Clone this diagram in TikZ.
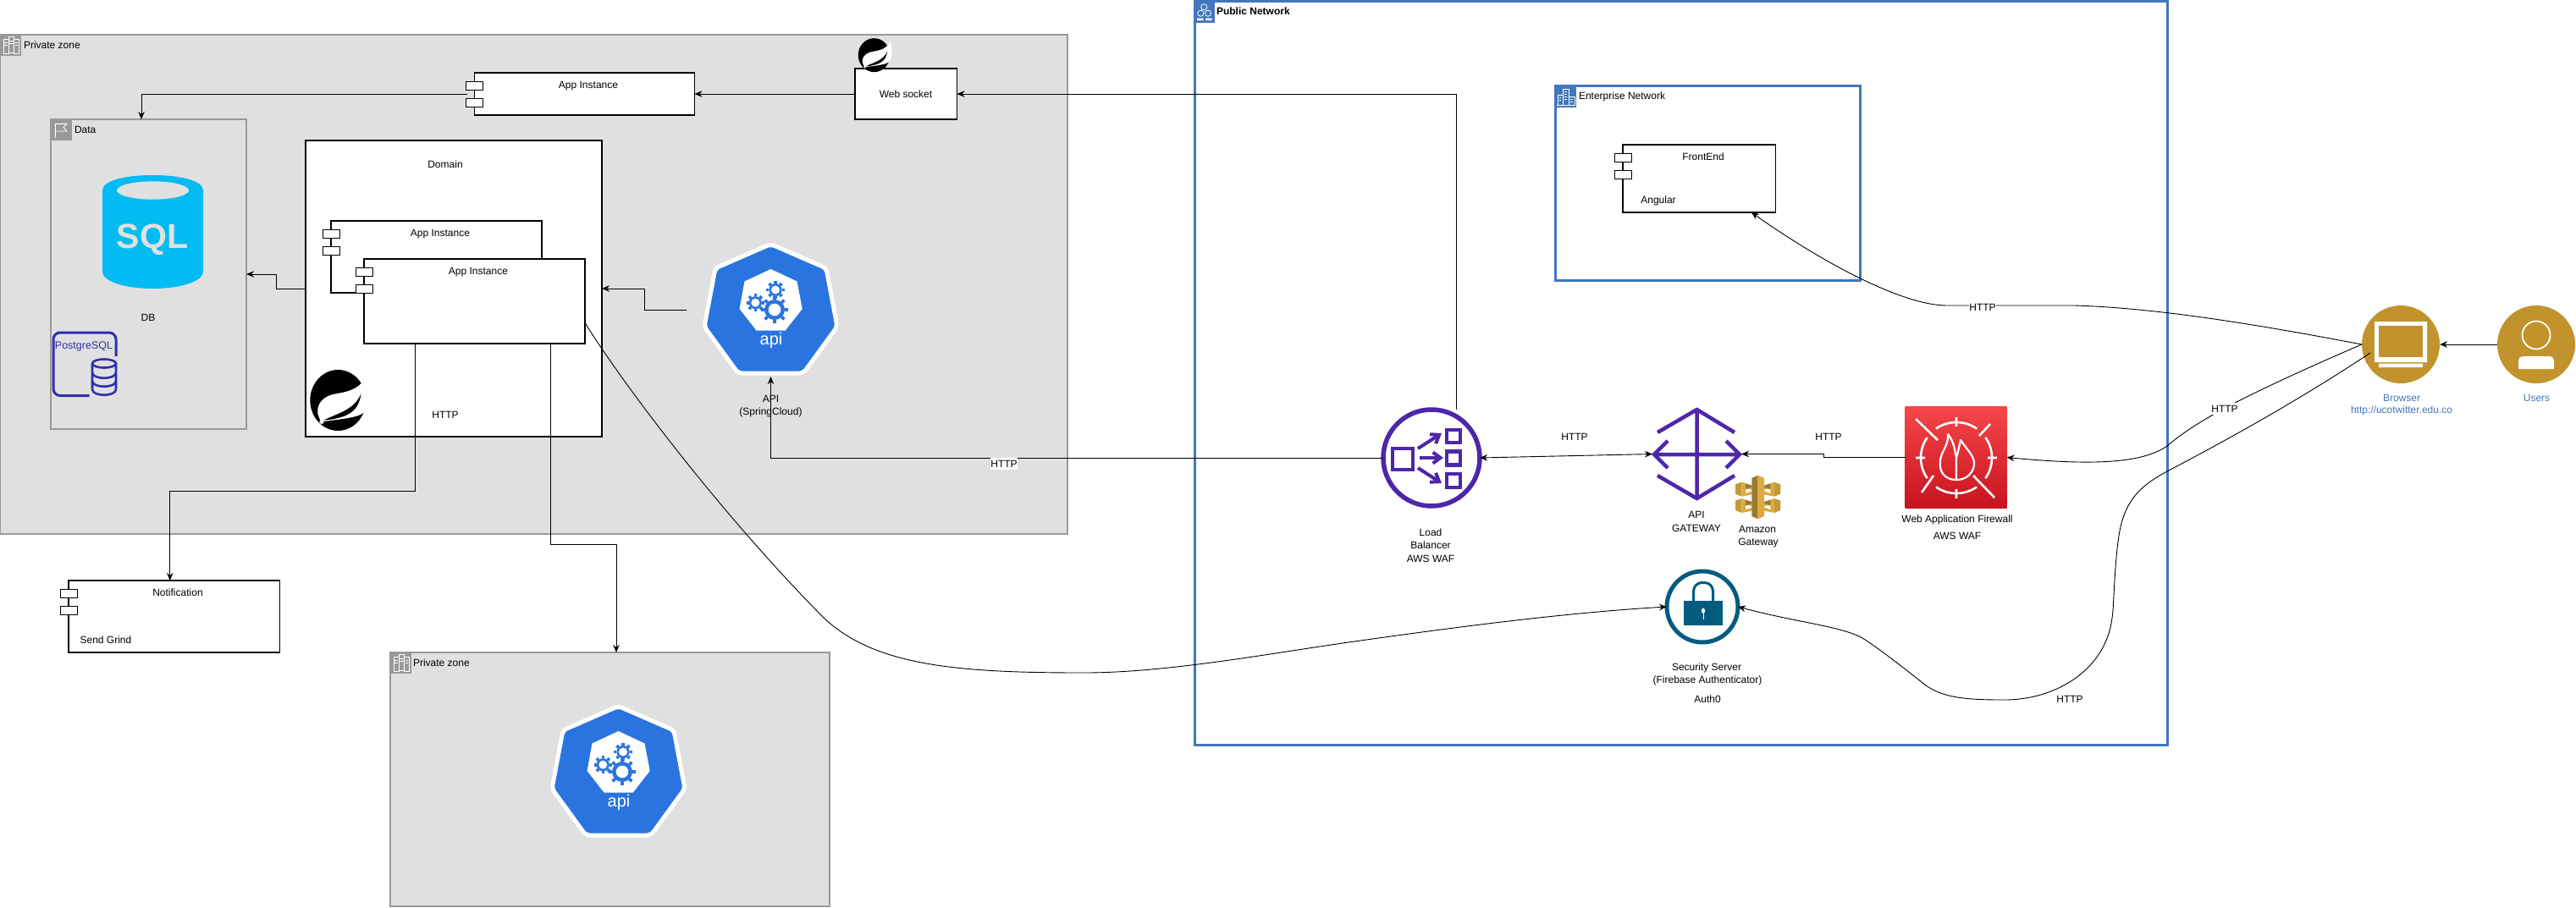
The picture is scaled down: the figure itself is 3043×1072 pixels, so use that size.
\documentclass[tikz,border=0pt]{standalone}
\usepackage{fontspec}
\setmainfont{Liberation Sans}
\usetikzlibrary{arrows.meta,calc}
\definecolor{zonefill}{HTML}{E0E0E0}
\definecolor{zoneline}{HTML}{999999}
\definecolor{netblue}{HTML}{4277BB}
\definecolor{apiblue}{HTML}{2A74E0}
\definecolor{awspurple}{HTML}{4D27AA}
\definecolor{lockblue}{HTML}{005B7F}
\definecolor{gold}{HTML}{C2932C}
\definecolor{pgblue}{HTML}{2F2FAD}
\definecolor{sqlblue}{HTML}{00BCF2}
\definecolor{wafA}{HTML}{F54749}
\definecolor{wafB}{HTML}{C7131F}
\definecolor{amzL}{HTML}{DBAA43}
\definecolor{amzM}{HTML}{C49A38}
\definecolor{amzD}{HTML}{9A7A32}
\tikzset{
  base/.style={inner sep=0pt,outer sep=0pt},
  lbl/.style={base,font=\fontsize{12}{14}\selectfont,text height=8.6pt,text depth=0pt,align=center},
  lbll/.style={lbl,anchor=west},
  httplbl/.style={lbl,fill=white,inner xsep=0.5pt,inner ysep=3pt},
  bluelbl/.style={lbl,text=netblue},
  box/.style={base,draw=black,line width=1.1pt,fill=white},
  port/.style={base,draw=black,line width=1pt,fill=white,minimum width=20pt,minimum height=10pt},
  zone/.style={base,draw=zoneline,line width=1.2pt,fill=zonefill},
  net/.style={base,draw=netblue,line width=3pt,fill=white},
  conn/.style={draw=black,line width=0.9pt,-{Stealth[length=9pt,width=7.5pt]}},
  biconn/.style={draw=black,line width=0.9pt,{Stealth[length=9pt,width=7.5pt]}-{Stealth[length=9pt,width=7.5pt]}},
  ic/.style={draw=white,line width=0.9pt,fill=none},
}
% component box with its two ports: name, cx, cy, w, h
\newcommand\compbox[5]{%
  \node[box,minimum width=#4pt,minimum height=#5pt] (#1) at (#2,#3) {};
  \node[port] (#1pa) at ([yshift=-15.5pt]#1.north west) {};
  \node[port] (#1pb) at ([yshift=-35.5pt]#1.north west) {};
}
\newcommand\gearshape[5]{% cx cy body tooth hole
  \fill[apiblue] (#1,#2) circle[radius=#3];
  \foreach \a in {0,45,...,315}{\draw[apiblue,line width=3.6pt] (#1,#2) ++(\a:#3) -- ++(\a:#4);}
  \fill[white] (#1,#2) circle[radius=#5];
}
% api badge; coordinates are those of the first badge, shifted by #1,#2
\newcommand\apiicon[3]{%
  \begin{scope}[shift={(#1,#2)}]
    \path[fill=apiblue,draw=white,line width=5pt,line join=round,rounded corners=5pt]
      (910.5,288.5)--(976,317)--(989,386)--(949,441)--(872,441)--(832,386)--(845,317)--cycle;
    \path[fill=white,line join=round]
      (910.5,318)--(941.5,332.5)--(947.7,365)--(927.7,390.6)--(893.6,390.6)--(873.6,365)--(879.5,332.5)--cycle;
    \gearshape{915}{366}{12}{4}{7.3}
    \gearshape{916}{342.5}{7.6}{3}{5}
    \gearshape{892.3}{357.7}{7.6}{3}{5}
    \node[base,text=white,font=\fontsize{20}{20}\selectfont,text height=11pt,text depth=0pt] (#3txt) at (911,402) {api};
  \end{scope}
}
\newcommand\springicon[4]{%
  \begin{scope}[shift={(#1,#2)},xscale=#3,yscale=#4]
    \fill[black] (133,129) ellipse[x radius=99,y radius=108];
    \fill[white] (75,205) .. controls (45,170) and (60,115) .. (130,105)
      .. controls (175,98) and (215,85) .. (232,42)
      .. controls (250,100) and (248,150) .. (225,172)
      .. controls (205,190) and (150,195) .. (75,205) -- cycle;
    \fill[black] (82,200) .. controls (130,175) and (190,165) .. (215,105)
      .. controls (205,170) and (170,185) .. (110,197) -- cycle;
    \fill[white] (75,205) circle[radius=8];
  \end{scope}
}
\begin{document}
\begin{tikzpicture}[x=1pt,y=-1pt]
\useasboundingbox (0,0) rectangle (3043,1072);
\fill[white] (0,0) rectangle (3043,1072);

% ---------- containers
\node[zone,minimum width=1261pt,minimum height=590pt] (pza) at (630.5,336) {};
\node[zone,minimum width=519pt,minimum height=300pt] (pzb) at (720.5,921) {};
\node[net,minimum width=1149pt,minimum height=879pt] (public) at (1985.5,441) {};
\node[net,minimum width=360.5pt,minimum height=230pt] (enterprise) at (2017.25,216) {};
\node[base,draw=zoneline,line width=2.5pt,minimum width=231pt,minimum height=366pt] (data) at (175.5,324) {};

% zone corner icons
\foreach \sx/\sy/\nm in {0/41/a,461/771/b}{
  \begin{scope}[shift={(\sx,\sy)}]
    \fill[zoneline] (0,0) rectangle (25,25);
    \draw[ic,line width=0.7pt] (4,5) rectangle (10,22); \draw[ic,line width=0.7pt] (10,2.5) rectangle (16.5,21); \draw[ic,line width=0.7pt] (16.5,5) rectangle (22,22);
    \draw[ic,line width=0.7pt] (5,9)--(9,9) (11,7)--(15.5,7) (17.5,9)--(21,9) (5,12)--(9,12) (11,10)--(15.5,10) (17.5,12)--(21,12);
  \end{scope}}
\node[lbll] (pzatxt) at (28,53) {Private zone};
\node[lbll] (pzbtxt) at (488,783) {Private zone};
% data flag
\fill[zoneline] (60,141) rectangle (85,166);
\draw[white,line width=0.9pt] (65.4,162.5)--(65.4,146.3)--(79,146.3)--(75,150.6)--(79,155)--(65.4,155);
\node[lbll] (datatxt) at (88,153) {Data};
% public network icon
\fill[netblue] (1411,0) rectangle (1435,27);
\foreach \cx/\cy in {1422.3/8.3,1418.3/15.7,1427/15.7}{\draw[white,line width=0.8pt] (\cx,\cy) circle[radius=3.6];}
\fill[white] (1414,21.5) rectangle (1421.5,24) (1424,21.5) rectangle (1431.5,24);
\node[lbll,font=\fontsize{12}{14}\selectfont\bfseries] (pubtxt) at (1437,12.7) {Public Network};
% enterprise icon
\fill[netblue] (1838,102) rectangle (1862,127);
\draw[ic] (1840,124.5)--(1840,112)--(1846,112)--(1846,124.5) (1846,124.5)--(1846,105)--(1853,105)--(1853,124.5) (1853,124.5)--(1853,114)--(1860,114)--(1860,124.5) (1839,124.5)--(1861,124.5);
\draw[white,line width=0.7pt] (1848,108)--(1851,108) (1848,111)--(1851,111) (1848,114)--(1851,114) (1848,117)--(1851,117) (1842,115)--(1844,115) (1842,118)--(1844,118) (1855,117)--(1858,117) (1855,120)--(1858,120);
\node[lbll] (enttxt) at (1865,113) {Enterprise Network};

% ---------- data
\path[fill=sqlblue] (121,225) .. controls (121,214) and (146,207) .. (180.5,207)
  .. controls (215,207) and (240,214) .. (240,225) -- (240,321)
  .. controls (240,332) and (215,341) .. (180.5,341)
  .. controls (146,341) and (121,332) .. (121,321) -- cycle;
\fill[zonefill] (180.5,225) ellipse[x radius=42.5,y radius=10.7];
\node[base,text=zonefill,font=\fontsize{41}{41}\selectfont\bfseries,text height=29pt,text depth=0pt] (sqltxt) at (180,279) {SQL};
\node[lbl] (dbtxt) at (175,375) {DB};
\draw[pgblue,line width=3pt,line cap=butt,rounded corners=8pt] (137,421)--(137,393)--(63,393)--(63,467.5)--(105.5,467.5);
\node[lbl,text=pgblue,font=\fontsize{12.5}{14}\selectfont] (pgtxt) at (99,408) {PostgreSQL};
\draw[pgblue,line width=2.6pt] (123,429.5) ellipse[x radius=14,y radius=5];
\draw[pgblue,line width=2.6pt] (109,429.5)--(109,460) .. controls (109,469) and (137,469) .. (137,460) -- (137,429.5)
  (109,440) .. controls (109,449) and (137,449) .. (137,440)
  (109,450) .. controls (109,459) and (137,459) .. (137,450);

% ---------- private zone content
\node[box,minimum width=350pt,minimum height=350pt] (domain) at (536,341) {};
\node[lbl] (domaintxt) at (526,194) {Domain};
\springicon{355}{430}{0.3333}{0.3333}
\compbox{back}{515.5}{303.5}{249}{85}
\compbox{front}{560.5}{356}{261}{100}
\node[lbl] (backtxt) at (520,275) {App Instance};
\node[lbl] (fronttxt) at (565,320) {App Instance};
\node[lbl] (domhttp) at (526,490) {HTTP};
\compbox{topapp}{690.5}{111}{260}{50}
\node[lbl] (topapptxt) at (695,100) {App Instance};
\node[box,minimum width=120.5pt,minimum height=60pt] (ws) at (1070.25,111) {};
\node[lbl] (wstxt) at (1070,111) {Web socket};
\springicon{1007.3}{41.3}{0.19}{0.185}
\apiicon{0}{0}{apia}
\node[base,minimum width=163pt,minimum height=159pt] (apia) at (910.5,365.5) {};
\node[lbl] (apil1) at (910.5,471) {API};
\node[lbl] (apil2) at (910.5,486.5) {(SpringCloud)};
\apiicon{-180}{546}{apib}
\node[base,minimum width=163pt,minimum height=159pt] (apib) at (730.5,911.5) {};

% ---------- notification
\compbox{notif}{205.75}{728.5}{249.5}{85}
\node[lbl] (notiftxt) at (210,700) {Notification};
\node[lbl] (notiftxtb) at (125,756) {Send Grind};

% ---------- enterprise
\compbox{fe}{2007.25}{211}{180.5}{80}
\node[lbl] (fetxt) at (2012,185) {FrontEnd};
\node[lbl] (fetxtb) at (1959,236) {Angular};

% ---------- load balancer
\node[base,circle,draw=awspurple,line width=5.5pt,minimum size=114pt] (lb) at (1691,541) {};
\draw[awspurple,line width=4.5pt,line join=miter] (1645,530) rectangle (1669,555)
  (1709,508) rectangle (1725,523) (1709,533.5) rectangle (1725,549.5) (1709,560) rectangle (1725,576);
\draw[awspurple,line width=4pt,-{Straight Barb[length=9pt,width=13pt]}] (1675,530)--(1703,512);
\draw[awspurple,line width=4pt,-{Straight Barb[length=9pt,width=13pt]}] (1677,541)--(1705,541);
\draw[awspurple,line width=4pt,-{Straight Barb[length=9pt,width=13pt]}] (1675,553)--(1703,571);
\node[lbl] (lbl1) at (1690,629) {Load};
\node[lbl] (lbl2) at (1690,644) {Balancer};
\node[lbl] (lbl3) at (1690,660) {AWS WAF};

% ---------- api gateway
\node[base,minimum width=105pt,minimum height=109pt] (gw) at (2004.5,536.5) {};
\draw[awspurple,line width=4.5pt,line join=miter]
  (2004.5,484)--(2004.5,589) (1954,537)--(2055,537)
  (1958,511)--(2004.5,484)--(2049,511)
  (1958,562)--(2004.5,589)--(2049,562)
  (1970,521)--(1954,537)--(1970,553)
  (2039,521)--(2055,537)--(2039,553);
\node[lbl] (gwl1) at (2004,608) {API};
\node[lbl] (gwl2) at (2004,624) {GATEWAY};

% amazon gateway icon
\begin{scope}[shift={(2040,555)},scale=1/3]
  \foreach \dy in {0,58}{
    \begin{scope}[yshift=-\dy pt]
      \fill[amzM] (30,52)--(52,44)--(52,95)--(30,86)--cycle;
      \fill[amzL] (52,44)--(88,56)--(88,72)--(66,64)--(66,84)--(88,76)--(88,88)--(52,95)--cycle;
      \fill[amzM] (190,52)--(168,44)--(168,95)--(190,86)--cycle;
      \fill[amzL] (168,44)--(132,56)--(132,72)--(154,64)--(154,84)--(132,76)--(132,88)--(168,95)--cycle;
      \fill[amzD] (66,70)--(88,62)--(88,56)--(66,49)--cycle;
      \fill[amzD] (154,70)--(132,62)--(132,56)--(154,49)--cycle;
    \end{scope}}
  \fill[amzD] (88,30)--(110,20)--(110,175)--(88,165)--cycle;
  \fill[amzL] (132,30)--(110,20)--(110,175)--(132,165)--cycle;
\end{scope}
\node[lbl] (amz1) at (2076,625) {Amazon};
\node[lbl] (amz2) at (2077,640) {Gateway};

% ---------- waf
\node[base,top color=wafA,bottom color=wafB,minimum width=120pt,minimum height=120pt] (waf) at (2310.5,540.5) {};
\begin{scope}[shift={(2311,541)}]
  \draw[white,line width=2.6pt]
    (125:42) arc[start angle=125,end angle=55,radius=42]
    (145:42) arc[start angle=145,end angle=215,radius=42]
    (-125:42) arc[start angle=-125,end angle=-55,radius=42]
    (35:42) arc[start angle=35,end angle=-35,radius=42]
    (0,-48)--(0,-37) (0,37)--(0,48) (-48,0)--(-37,0) (37,0)--(48,0)
    (-48,-46)--(-22,-21) (40,-40)--(27,-26) (-27,21)--(-41,41) (20,21)--(45,47);
  \draw[white,line width=2.2pt,line join=round] (0,26)
    .. controls (-14,26) and (-21,16) .. (-19,3)
    .. controls (-18,-8) and (-9,-14) .. (-10,-28)
    .. controls (-2,-18) and (-2,-8) .. (0,0)
    .. controls (2,-6) and (3,-12) .. (5,-21)
    .. controls (12,-10) and (22,-2) .. (21,8)
    .. controls (20,18) and (12,26) .. (0,26) -- (0,-2);
\end{scope}
\node[lbl] (wafl1) at (2312,613) {Web Application Firewall};
\node[lbl] (wafl2) at (2312,633) {AWS WAF};

% ---------- security
\node[base,circle,draw=lockblue,line width=5pt,minimum size=84pt] (sec) at (2011,717) {};
\draw[lockblue,line width=3pt,rounded corners=10pt] (2000.5,711)--(2000.5,688.5)--(2023.5,688.5)--(2023.5,711);
\fill[lockblue] (1989,710) rectangle (2035,739);
\fill[white] (2012,721.7) ellipse[x radius=2.2,y radius=3];
\draw[white,line width=1pt] (2012,722)--(2012,732);
\node[lbl] (secl1) at (2016,788) {Security Server};
\node[lbl] (secl2) at (2017,803) {(Firebase Authenticator)};
\node[lbl] (secl3) at (2017,826) {Auth0};

% ---------- browser and users
\node[base,circle,fill=gold,minimum size=92pt] (browser) at (2836,407) {};
\fill[white] (2805,380) rectangle (2867,428) (2810,429.5) rectangle (2862,434);
\fill[gold] (2809.5,385) rectangle (2862,422);
\node[base,circle,fill=gold,minimum size=92pt] (users) at (2996,407) {};
\draw[white,line width=1.8pt] (2996,396) circle[radius=16.5];
\path[fill=white,rounded corners=5pt] (2975,436)--(2975,421)--(3017,421)--(3017,436);
\fill[white] (2975,430) rectangle (3017,435);
\node[bluelbl] (brl1) at (2837,470) {Browser};
\node[bluelbl] (brl2) at (2837,484) {http://ucotwitter.edu.co};
\node[bluelbl] (usl) at (2996.5,470) {Users};

% ---------- connector anchors
\coordinate (apiout) at (811,366);
\coordinate (bc) at (2800,417);

% ---------- connectors
\draw[conn] ([xshift=-9pt]topapp.west) -| ([xshift=-8.5pt]data.north);
\draw[conn] (domain.west) -- ++(-35,0) |- (data.east);
\draw[conn] (ws.west) -- (topapp.east);
\draw[conn] (apiout) -- ++(-50,0) |- (domain.east);
\draw[conn] ([xshift=29pt]lb.north) |- (ws.east);
\draw[conn] (lb.west) -| (apia.south);
\draw[biconn] (lb.east) -- (gw.west);
\draw[conn] (waf.west) -- ++(-96,0) |- (gw.east);
\draw[conn] (users.west) -- (browser.east);
\draw[conn] ([xshift=-70pt]front.south) -- ++(0,174) -| ([xshift=-5pt]notif.north);
\draw[conn] ([xshift=90pt]front.south) -- ++(0,237) -| ([xshift=7.5pt]pzb.north);
\draw[conn] (front.-11.27) .. controls (730,445) and (845,600) .. (970,727)
  .. controls (1030,787) and (1130,795) .. (1280,795)
  .. controls (1380,795) and (1500,772) .. (1600,758)
  .. controls (1720,741) and (1850,724) .. (sec.west);
\draw[conn] (browser.west) .. controls (2700,390) and (2560,364) .. (2450,361)
  -- (2300,361) .. controls (2250,361) and (2160,315) .. (fe.-33.8);
\draw[conn] (browser.west) .. controls (2720,437) and (2660,465) .. (2625,484)
  .. controls (2600,498) and (2580,510) .. (2560,527)
  .. controls (2530,548) and (2470,550) .. (waf.east);
\draw[conn] (bc) .. controls (2720,470) and (2640,515) .. (2560,557)
  .. controls (2520,578) and (2507,600) .. (2502,640)
  .. controls (2497,680) and (2497,720) .. (2495,730)
  .. controls (2488,790) and (2430,828) .. (2365,827)
  .. controls (2320,827) and (2295,824) .. (2275,810)
  .. controls (2250,790) and (2215,763) .. (2200,754)
  .. controls (2175,740) and (2120,735) .. (sec.east);

% ---------- connector labels
\node[httplbl] (h1) at (1186,548) {HTTP};
\node[lbl] (h2) at (1860,516) {HTTP};
\node[lbl] (h3) at (2160,516) {HTTP};
\node[httplbl] (h4) at (2342,363) {HTTP};
\node[httplbl] (h5) at (2628,483) {HTTP};
\node[httplbl] (h6) at (2445,826) {HTTP};
\end{tikzpicture}
\end{document}
